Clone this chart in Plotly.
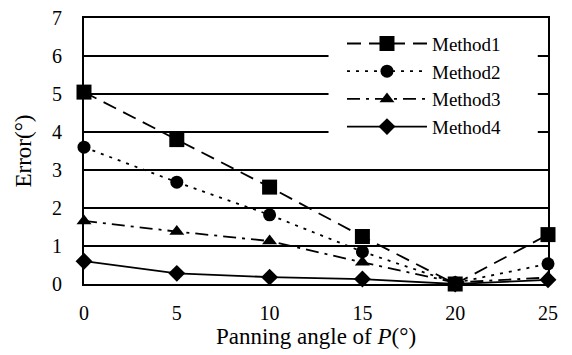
import plotly.graph_objects as go

angles = [0, 5, 10, 15, 20, 25]
method1 = [5.05, 3.8, 2.55, 1.25, 0.0, 1.3]
method2 = [3.6, 2.68, 1.82, 0.85, 0.03, 0.53]
method3 = [1.66, 1.38, 1.13, 0.57, 0.04, 0.17]
method4 = [0.6, 0.28, 0.18, 0.13, 0.0, 0.11]
names = ["Method1", "Method2", "Method3", "Method4"]
series = [method1, method2, method3, method4]
dashes = ["14px,8px", "3px,6px", "13px,6px,3px,6px", "solid"]
symbols = ["square", "circle", "triangle-up", "diamond"]
sizes = [15, 13, 13, 13]

FONT = "Liberation Serif"

fig = go.Figure()
for n, s, d, sym, sz in zip(names, series, dashes, symbols, sizes):
    fig.add_trace(go.Scatter(
        x=angles, y=s, name=n, mode="lines+markers",
        line=dict(color="black", width=1.8, dash=d),
        marker=dict(symbol=sym, size=sz, color="black"),
        cliponaxis=False,
    ))

# white panel behind the legend that interrupts the gridlines
fig.add_shape(type="rect", xref="paper", yref="paper",
              x0=0.527, x1=0.978, y0=0.5, y1=0.96,
              fillcolor="white", line=dict(width=0), layer="above")

# page body has an 8px margin, so the figure is offset by (8, 8)
fig.update_layout(
    width=572, height=355,
    margin=dict(l=76, r=32, t=10, b=79, autoexpand=False),
    paper_bgcolor="white", plot_bgcolor="white",
    font=dict(family=FONT, color="black", size=20),
    showlegend=True,
    legend=dict(x=0.556, y=0.975, xanchor="left", yanchor="top",
                bgcolor="rgba(0,0,0,0)", borderwidth=0,
                font=dict(family=FONT, size=19, color="black"),
                itemwidth=80, tracegroupgap=0),
)
fig.update_xaxes(
    range=[0, 25], tickvals=angles, showgrid=False, zeroline=False,
    showline=True, linecolor="black", linewidth=2, mirror=True,
    ticks="outside", ticklen=10, tickcolor="rgba(0,0,0,0)", automargin=False,
    ticklabeloverflow="allow",
    tickfont=dict(family=FONT, size=20),
    title=dict(text="Panning angle of <i>P</i>(°)", font=dict(family=FONT, size=23), standoff=0),
)
fig.update_yaxes(
    range=[0, 7], dtick=1, showgrid=True, gridcolor="black", gridwidth=2,
    zeroline=False, showline=True, linecolor="black", linewidth=2, mirror=True,
    ticks="outside", ticklen=16, tickcolor="rgba(0,0,0,0)", automargin=False,
    ticklabeloverflow="allow",
    tickfont=dict(family=FONT, size=20),
    title=dict(text="Error(°)", font=dict(family=FONT, size=23), standoff=14),
)

fig.write_html("out.html")
